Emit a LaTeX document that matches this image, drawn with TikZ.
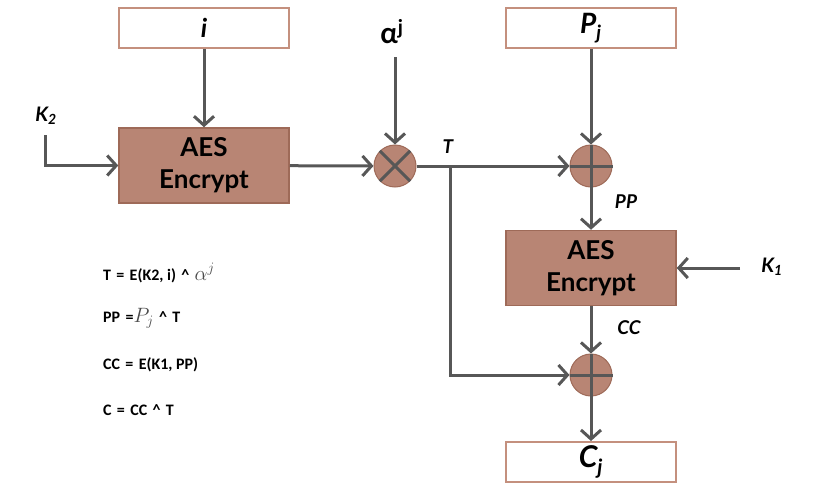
\documentclass[tikz,border=0pt]{standalone}
\usepackage{fontspec}
\setmainfont{Lato}
\newfontfamily\calib{Carlito}
\usetikzlibrary{arrows.meta}
\definecolor{ln}{HTML}{575757}
\definecolor{brn}{HTML}{B88574}
\definecolor{brnd}{HTML}{9E6A58}
\definecolor{wbd}{HTML}{C4907E}
\definecolor{mth}{HTML}{4A4A4A}
\tikzset{
  wbox/.style={draw=wbd,line width=2pt,fill=white,minimum width=170pt,minimum height=40pt,inner sep=0pt},
  aesbox/.style={draw=brnd,line width=1.5pt,fill=brn,minimum width=170pt,minimum height=75pt,inner sep=0pt,align=center,font=\fontsize{26}{32}\selectfont\bfseries},
  opc/.style={circle,draw=brnd,line width=1pt,fill=brn,minimum size=42pt,inner sep=0pt},
  arr/.style={draw=ln,line width=3pt,-{Straight Barb[length=9pt,width=20pt,line width=3pt]}},
  cross/.style={draw=ln,line width=3pt},
  lab/.style={font=\fontsize{19}{19}\selectfont\bfseries\itshape,inner sep=0pt},
  frm/.style={font=\calib\fontsize{16}{17}\selectfont\bfseries,anchor=west,inner sep=0pt}
}
\begin{document}
\begin{tikzpicture}[x=1pt,y=-1pt]
\useasboundingbox (0,0) rectangle (820,501);
% boxes
\node[wbox] (i) at (204,28) {\fontsize{26}{26}\selectfont\bfseries\itshape i};
\node[wbox] (Pj) at (591,28) {\fontsize{28}{28}\selectfont\bfseries\itshape P\textsubscript{j}};
\node[wbox] (Cj) at (591,462) {\fontsize{30}{30}\selectfont\bfseries\itshape C\textsubscript{j}};
\node[aesbox] (aes1) at (204,165.5) {AES\\Encrypt};
\node[aesbox] (aes2) at (591,268) {AES\\Encrypt};
\node[opc] (mult) at (395,166) {};
\node[opc] (xor1) at (591,166) {};
\node[opc] (xor2) at (591,375) {};
% operator marks
\draw[cross] (mult.north west) -- (mult.south east);
\draw[cross] (mult.north east) -- (mult.south west);
\draw[cross] (xor1.north) -- (xor1.south);
\draw[cross] (xor1.west) -- (xor1.east);
\draw[cross] (xor2.north) -- (xor2.south);
\draw[cross] (xor2.west) -- (xor2.east);
% labels
\node[lab,font=\fontsize{20}{20}\selectfont\bfseries\itshape] (k2l) at (46,116) {K\textsubscript{2}};
\node[inner sep=0pt] (al) at (392,32) {\fontsize{29}{29}\selectfont\bfseries α\textsuperscript{j}};
\node[lab] (tl) at (448,147) {T};
\node[lab] (ppl) at (626,202) {PP};
\node[lab] (ccl) at (629,328) {CC};
\node[lab,font=\fontsize{20}{20}\selectfont\bfseries\itshape] (k1l) at (772,267) {K\textsubscript{1}};
% connector ends
\coordinate (k2s) at (45,135);
\coordinate (als) at (395,57);
\coordinate (tj) at (450,166);
\coordinate (k1s) at (740,268);
% connectors
\draw[arr] (k2s) |- (aes1.west);
\draw[arr] (i) -- (aes1);
\draw[arr] (aes1) -- (mult);
\draw[arr] (als) -- (mult);
\draw[arr] (mult) -- (xor1);
\draw[arr] (tj) |- (xor2);
\draw[arr] (Pj) -- (xor1);
\draw[arr] (xor1) -- (aes2);
\draw[arr] (k1s) -- (aes2.east);
\draw[arr] (aes2) -- (xor2);
\draw[arr] (xor2) -- (Cj);
% formulas
\node[frm] (f1) at (103,273) {T\,\,=\,\,E(K2, i)\,\,\^{}\,\,\textcolor{mth}{\fontsize{21}{21}\selectfont$\alpha^j$}};
\node[frm] (f2) at (103,318) {PP\,\,=\textcolor{mth}{\fontsize{21}{21}\selectfont$P_j$}\,\,\^{}\,\,T};
\node[frm] (f3) at (103,365) {CC\,\,=\,\,E(K1, PP)};
\node[frm] (f4) at (103,410) {C\,\,=\,\,CC\,\,\^{}\,\,T};
\end{tikzpicture}
\end{document}
